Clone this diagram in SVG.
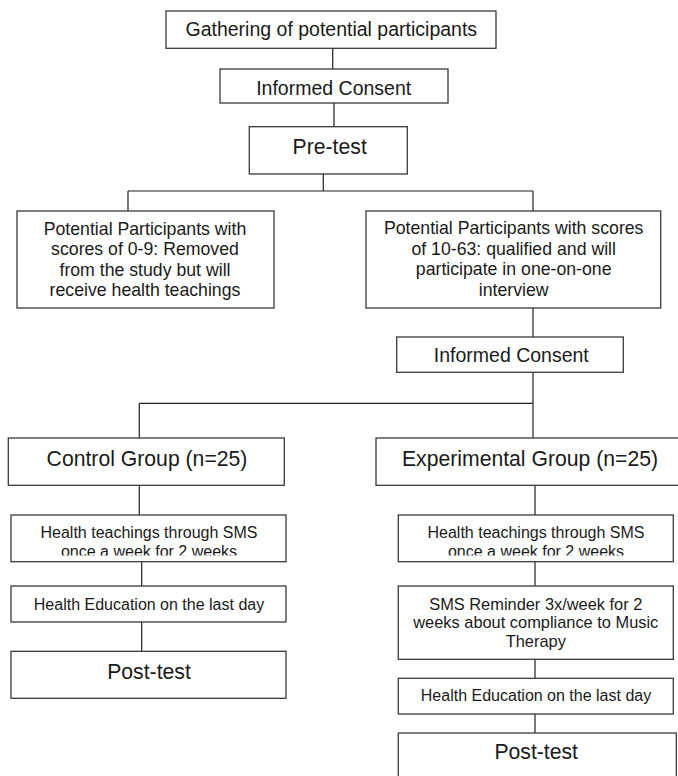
<svg xmlns="http://www.w3.org/2000/svg" width="678" height="776" viewBox="0 0 678 776">
<style>
.box{fill:#fff;stroke:#3a3a3a;stroke-width:1.3}
.con{fill:none;stroke:#222;stroke-width:1.2}
text{font-family:"Liberation Sans",Arial,sans-serif;fill:#1a1a1a;text-anchor:middle}
.t195{font-size:19.5px}
.t21{font-size:21.2px}
.t177{font-size:17.7px}
.t16{font-size:16px}
.t165{font-size:16.4px}
</style>
<defs>
<clipPath id="clipC"><rect x="0" y="515" width="300" height="40.5"/></clipPath>
<clipPath id="clipE"><rect x="390" y="515" width="300" height="40.5"/></clipPath>
</defs>
<rect width="678" height="776" fill="#fff"/>
<g id="connectors">
<path class="con" d="M332.7 48.3V69M334 103V127M323.3 174V191M128 191H533M128 191V211M533 191V211M533 308V337M533 372V438M139.3 403.3H533M139.3 403.3V438M139.3 485.3V515M141.7 561.7V586M141.7 622V651.3M535 485.3V515M535 561.7V586M535 659.3V678.3M535 714V733"/>
</g>
<g id="n1"><rect class="box" x="166" y="11" width="330" height="37.3"/><text class="t195" x="331.3" y="36">Gathering of potential participants</text></g>
<g id="n2"><rect class="box" x="220" y="69" width="228" height="34"/><text class="t195" x="333.7" y="94.5">Informed Consent</text></g>
<g id="n3"><rect class="box" x="249.3" y="126.7" width="158" height="47.3"/><text class="t21" x="329.7" y="154">Pre-test</text></g>
<g id="n4"><rect class="box" x="17" y="211" width="257" height="97"/><text class="t177" x="145" y="234.5">Potential Participants with</text><text class="t177" x="145" y="255">scores of 0-9: Removed</text><text class="t177" x="145" y="275.5">from the study but will</text><text class="t177" x="145" y="296">receive health teachings</text></g>
<g id="n5"><rect class="box" x="366" y="211" width="294.7" height="97"/><text class="t177" x="513.7" y="234">Potential Participants with scores</text><text class="t177" x="513.7" y="254.5">of 10-63: qualified and will</text><text class="t177" x="513.7" y="275">participate in one-on-one</text><text class="t177" x="513.7" y="295.5">interview</text></g>
<g id="n6"><rect class="box" x="396.7" y="337" width="226.6" height="35.3"/><text class="t195" x="511.3" y="362.3">Informed Consent</text></g>
<g id="n7"><rect class="box" x="8.3" y="438" width="276" height="47.3"/><text class="t21" x="147" y="466">Control Group (n=25)</text></g>
<g id="n8"><rect class="box" x="376" y="438" width="308" height="47.3"/><text class="t21" x="530" y="466">Experimental Group (n=25)</text></g>
<g id="n9"><rect class="box" x="11" y="515" width="275" height="46.7"/><text class="t16" x="149" y="538">Health teachings through SMS</text><text class="t16" x="149" y="556.5" clip-path="url(#clipC)">once a week for 2 weeks</text></g>
<g id="n10"><rect class="box" x="11" y="586" width="275" height="36"/><text class="t16" x="149" y="610">Health Education on the last day</text></g>
<g id="n11"><rect class="box" x="11" y="651.3" width="275" height="47"/><text class="t21" x="149" y="679.3">Post-test</text></g>
<g id="n12"><rect class="box" x="398.3" y="515" width="275" height="46.7"/><text class="t16" x="536" y="538">Health teachings through SMS</text><text class="t16" x="536" y="556.5" clip-path="url(#clipE)">once a week for 2 weeks</text></g>
<g id="n13"><rect class="box" x="398.3" y="586" width="275" height="73.3"/><text class="t165" x="535.8" y="610">SMS Reminder 3x/week for 2</text><text class="t165" x="535.8" y="628.3">weeks about compliance to Music</text><text class="t165" x="535.8" y="646.7">Therapy</text></g>
<g id="n14"><rect class="box" x="398.3" y="678.3" width="275" height="35.7"/><text class="t16" x="536" y="700.7">Health Education on the last day</text></g>
<g id="n15"><rect class="box" x="398.3" y="733" width="278" height="60"/><text class="t21" x="536.2" y="759.3">Post-test</text></g>
</svg>
